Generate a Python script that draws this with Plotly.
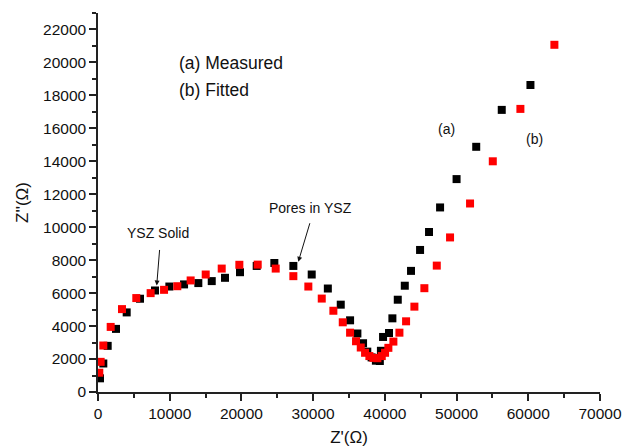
import plotly.graph_objects as go

# Measured (a)
meas_x = [280, 740, 1350, 2510, 4000, 5860, 7950, 9950, 12000, 13990, 15860, 17710,
          19800, 22130, 24590, 27240, 29800, 32050, 33850, 35150, 36170, 36960,
          37550, 38150, 38750, 39300, 39450, 39750, 40580, 41050, 41800, 42780,
          43650, 44910, 46160, 47700, 50000, 52740, 56300, 60300]
meas_y = [830, 1730, 2800, 3830, 4830, 5660, 6160, 6400, 6530, 6610, 6730, 6930,
          7270, 7650, 7830, 7650, 7130, 6280, 5300, 4350, 3550, 2960,
          2450, 2100, 1900, 1880, 2500, 3340, 3580, 4470, 5600, 6450,
          7350, 8620, 9710, 11200, 12920, 14880, 17120, 18630]

# Fitted (b)
fit_x = [180, 370, 740, 1770, 3350, 5340, 7340, 9210, 11060, 12920, 15020, 17250,
         19710, 22270, 24780, 27240, 29330, 31200, 32820, 34130, 35150, 35980,
         36640, 37240, 37840, 38400, 38960, 39570, 40030, 40490, 41190, 42030,
         42960, 44120, 45510, 47240, 49090, 51880, 55050, 58900, 63640]
fit_y = [1170, 1830, 2820, 3950, 5030, 5700, 6000, 6200, 6420, 6770, 7130, 7490,
         7720, 7730, 7490, 7030, 6400, 5670, 4930, 4230, 3600, 3080,
         2700, 2380, 2180, 2070, 2050, 2180, 2380, 2680, 3060, 3600,
         4290, 5180, 6300, 7670, 9380, 11440, 14000, 17180, 21070]

x_ticks = [0, 10000, 20000, 30000, 40000, 50000, 60000, 70000]
y_ticks = list(range(0, 22001, 2000))

FONT = "Liberation Sans, Arial, sans-serif"

fig = go.Figure()
fig.add_trace(go.Scatter(x=meas_x, y=meas_y, mode="markers", name="(a) Measured",
                         marker=dict(symbol="square", size=8, color="#000000")))
fig.add_trace(go.Scatter(x=fit_x, y=fit_y, mode="markers", name="(b) Fitted",
                         marker=dict(symbol="square", size=8, color="#ff0000")))

axis_common = dict(showline=True, linecolor="#222222", linewidth=1.5,
                   ticks="outside", ticklen=7, tickwidth=1.5, tickcolor="#222222",
                   showgrid=False, zeroline=False, mirror=False, automargin=False,
                   tickfont=dict(family=FONT, size=15.5, color="#111111"))

fig.update_layout(
    width=633, height=447,
    margin=dict(l=98, r=33, t=13, b=55),
    paper_bgcolor="white", plot_bgcolor="white",
    showlegend=False,
    font=dict(family=FONT, color="#111111"),
    xaxis=dict(range=[0, 70000], tickvals=x_ticks, ticktext=[str(v) for v in x_ticks],
               title=dict(text="Z'(Ω)", font=dict(family=FONT, size=17), standoff=14),
               minor=dict(ticks="outside", ticklen=4, tickwidth=1.5, tickcolor="#222222", dtick=5000),
               **axis_common),
    yaxis=dict(range=[0, 23000], tickvals=y_ticks, ticktext=[str(v) for v in y_ticks],
               title=dict(text="Z''(Ω)", font=dict(family=FONT, size=17), standoff=10),
               minor=dict(ticks="outside", ticklen=4, tickwidth=1.5, tickcolor="#222222", dtick=1000),
               **axis_common),
)

ann_font = dict(family=FONT, size=14, color="#111111")
legend_font = dict(family=FONT, size=17.5, color="#111111")

annotations = [
    dict(x=11020, y=19980, text="(a) Measured", showarrow=False, xanchor="left", font=legend_font),
    dict(x=11020, y=18320, text="(b) Fitted", showarrow=False, xanchor="left", font=legend_font),
    dict(x=48630, y=15940, text="(a)", showarrow=False, font=ann_font),
    dict(x=60800, y=15330, text="(b)", showarrow=False, font=ann_font),
    dict(x=8367, y=9650, text="YSZ Solid", showarrow=False, font=ann_font),
    dict(x=29700, y=11165, text="Pores in YSZ", showarrow=False, font=ann_font),
    dict(x=8186, y=6465, text="", showarrow=True, ax=3, ay=-37, arrowhead=2,
         arrowsize=1, arrowwidth=1, arrowcolor="#111111"),
    dict(x=27930, y=7906, text="", showarrow=True, ax=12, ay=-40, arrowhead=2,
         arrowsize=1, arrowwidth=1, arrowcolor="#111111"),
]
fig.update_layout(annotations=annotations)

fig.write_html("out.html")
